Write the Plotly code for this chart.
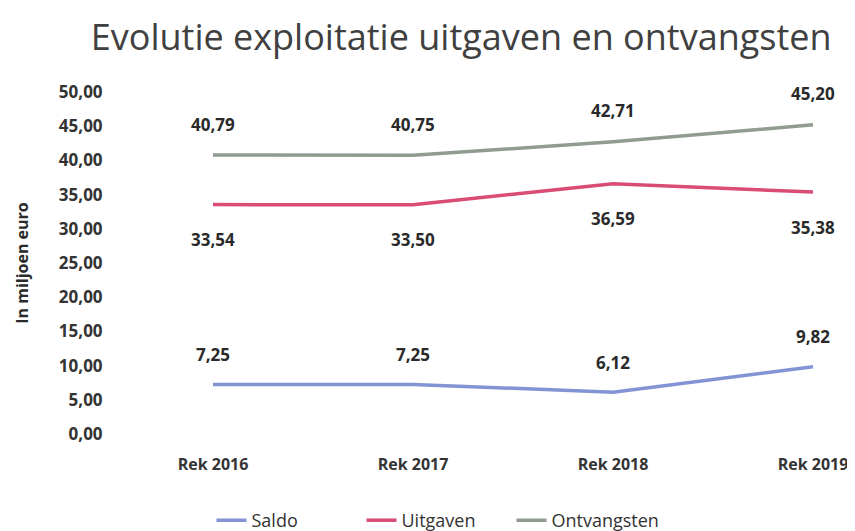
import plotly.graph_objects as go

categories = ["Rek 2016", "Rek 2017", "Rek 2018", "Rek 2019"]
saldo = [7.25, 7.25, 6.12, 9.82]
uitgaven = [33.54, 33.50, 36.59, 35.38]
ontvangsten = [40.79, 40.75, 42.71, 45.20]
y_ticks = [0, 5, 10, 15, 20, 25, 30, 35, 40, 45, 50]
y_tick_labels = ["0,00", "5,00", "10,00", "15,00", "20,00", "25,00", "30,00", "35,00", "40,00", "45,00", "50,00"]

def fmt(v):
    return f"{v:.2f}".replace(".", ",")

font_family = "Open Sans, Lato, sans-serif"
x_idx = list(range(len(categories)))

fig = go.Figure()
series = [
    ("Saldo", saldo, "#8394d4", 30),
    ("Uitgaven", uitgaven, "#d94c74", -35),
    ("Ontvangsten", ontvangsten, "#8f9c8f", 31),
]
for name, vals, color, shift in series:
    fig.add_trace(go.Scatter(
        x=x_idx, y=vals, mode="lines", name=name,
        line=dict(color=color, width=3.5),
    ))
    for xi, v in zip(x_idx, vals):
        fig.add_annotation(
            x=xi, y=v, text=fmt(v), showarrow=False, yshift=shift,
            font=dict(family=font_family, size=17, color="#2a2a2a", weight="bold"),
        )

fig.update_layout(
    width=855, height=531,
    paper_bgcolor="white", plot_bgcolor="white",
    margin=dict(l=105, r=0, t=84, b=105),
    title=dict(
        text="Evolutie exploitatie uitgaven en ontvangsten",
        x=0.53, xanchor="center", yref="container", y=0.945, yanchor="middle",
        font=dict(family=font_family, size=36, color="#404040"),
    ),
    xaxis=dict(
        range=[-0.5, 3.25], tickmode="array", tickvals=x_idx, ticktext=categories,
        showgrid=False, zeroline=False, showline=False,
        ticks="outside", ticklen=16, tickcolor="rgba(0,0,0,0)",
        tickfont=dict(family=font_family, size=16, color="#333333", weight="bold"),
    ),
    yaxis=dict(
        range=[0, 50], tickmode="array", tickvals=y_ticks, ticktext=y_tick_labels,
        showgrid=False, zeroline=False, showline=False,
        ticks="outside", ticklen=6, tickcolor="rgba(0,0,0,0)",
        tickfont=dict(family=font_family, size=17, color="#333333", weight="bold"),
        title=dict(text="In miljoen euro", standoff=26,
                   font=dict(family=font_family, size=16, color="#2a2a2a", weight="bold")),
    ),
    legend=dict(
        orientation="h", xref="container", x=0.238, xanchor="left",
        yref="container", y=0.0, yanchor="bottom",
        font=dict(family=font_family, size=18, color="#333333"),
        entrywidth=105, entrywidthmode="pixels",
    ),
    showlegend=True,
)

fig.write_html("out.html")
